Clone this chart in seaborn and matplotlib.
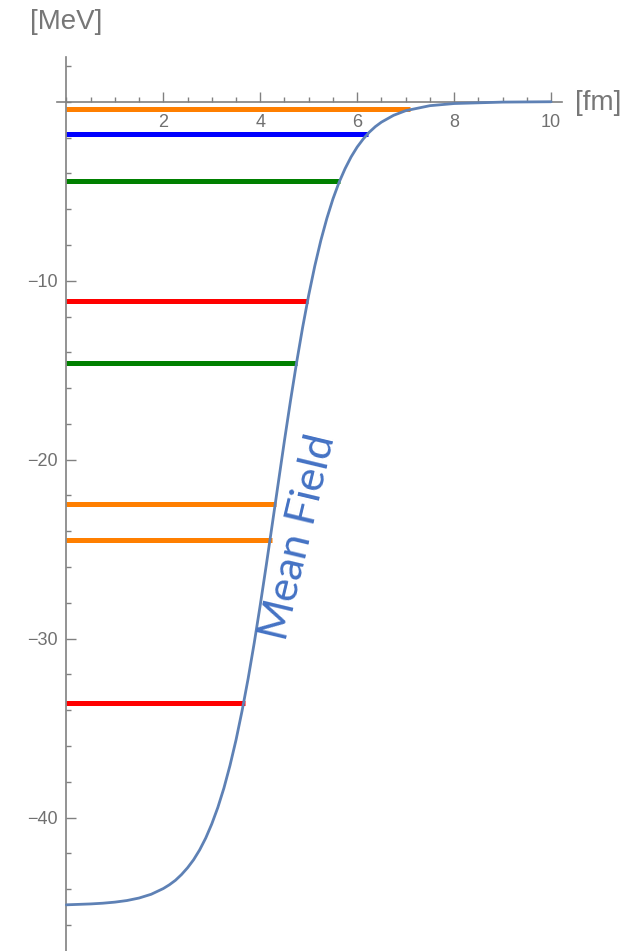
import matplotlib
matplotlib.use("Agg")
import matplotlib.pyplot as plt
import seaborn as sns
import pandas as pd
from matplotlib.ticker import FixedLocator, MultipleLocator

# Mean-field potential well V(r)
r_fm = [0.0, 0.5, 0.75, 1.0, 1.25, 1.5, 1.75, 2.0, 2.125, 2.25, 2.375, 2.5,
        2.625, 2.75, 2.875, 3.0, 3.125, 3.25, 3.375, 3.5, 3.625, 3.75,
        3.875, 4.0, 4.125, 4.25, 4.375, 4.5, 4.625, 4.75, 4.875, 5.0,
        5.125, 5.25, 5.375, 5.5, 5.625, 5.75, 5.875, 6.0, 6.125, 6.25,
        6.375, 6.5, 6.75, 7.0, 7.5, 8.0, 9.0, 10.0]
potential_mev = [-44.87, -44.82, -44.78, -44.72, -44.63, -44.49, -44.28,
                 -43.96, -43.75, -43.50, -43.18, -42.80, -42.35, -41.80,
                 -41.14, -40.35, -39.43, -38.35, -37.09, -35.66, -34.03,
                 -32.23, -30.25, -28.12, -25.88, -23.57, -21.24, -18.92,
                 -16.69, -14.57, -12.60, -10.80, -9.18, -7.75, -6.51, -5.43,
                 -4.51, -3.74, -3.08, -2.53, -2.08, -1.70, -1.39, -1.14,
                 -0.76, -0.50, -0.22, -0.10, -0.02, 0.0]

# Single-particle levels: energy, outer turning radius, colour
level_energy = [-0.42, -1.82, -4.41, -11.12, -14.58, -22.49, -24.49, -33.58]
level_r_max = [7.09, 6.22, 5.65, 4.99, 4.75, 4.32, 4.24, 3.68]
level_color = ["#FF7F00", "#0000FF", "#008000", "#FF0000",
               "#008000", "#FF7F00", "#FF7F00", "#FF0000"]

x_major = [2, 4, 6, 8, 10]
y_major = [-10, -20, -30, -40]

sns.set_theme(style="white")
plt.rcParams["font.family"] = ["Liberation Sans", "DejaVu Sans"]

W, H = 639, 951
fig = plt.figure(figsize=(W / 100, H / 100), dpi=100)
left_px, right_px, top_px, bottom_px = 56.7, 561.7, 57.0, 951.0
ax = fig.add_axes([left_px / W, 1 - bottom_px / H,
                   (right_px - left_px) / W, (bottom_px - top_px) / H])
ax.set_xlim(-0.2, 10.22)
ax.set_ylim(-47.45, 2.5)

df = pd.DataFrame({"r": r_fm, "V": potential_mev})
sns.lineplot(data=df, x="r", y="V", ax=ax, color="#5E81B5", lw=2.0,
             sort=False, zorder=3)

ax.hlines(level_energy, 0, level_r_max, colors=level_color, lw=3.6,
          zorder=2, capstyle="butt")

ax.text(4.8, -24.3, "Mean Field", rotation=76.6, rotation_mode="anchor",
        ha="center", va="center", color="#4472C4", fontsize=31,
        family=["Lato", "DejaVu Sans"])

axis_gray = "#808080"
for side in ("top", "right"):
    ax.spines[side].set_visible(False)
for side in ("left", "bottom"):
    ax.spines[side].set_position(("data", 0))
    ax.spines[side].set_color(axis_gray)
    ax.spines[side].set_linewidth(1.2)

ax.xaxis.set_major_locator(FixedLocator(x_major))
ax.xaxis.set_minor_locator(MultipleLocator(0.5))
ax.yaxis.set_major_locator(FixedLocator(y_major))
ax.yaxis.set_minor_locator(MultipleLocator(2))

ax.tick_params(axis="both", which="both", direction="in", color=axis_gray,
               width=1.0, labelcolor="#707070", labelsize=13)
ax.tick_params(axis="both", which="major", length=7)
ax.tick_params(axis="both", which="minor", length=3.6)
ax.tick_params(axis="x", which="both", bottom=True, pad=8.5)
ax.tick_params(axis="y", which="both", left=True, pad=6.3)
ax.set_xlabel("")
ax.set_ylabel("")
ax.patch.set_alpha(0)
ax.grid(False)

fig.text(66 / W, 1 - 22 / H, "[MeV]", ha="center", va="center",
         color="#777777", fontsize=20)
fig.text(575 / W, 1 - 103 / H, "[fm]", ha="left", va="center",
         color="#777777", fontsize=20)

fig.savefig("out.png", dpi=100, facecolor="white")
